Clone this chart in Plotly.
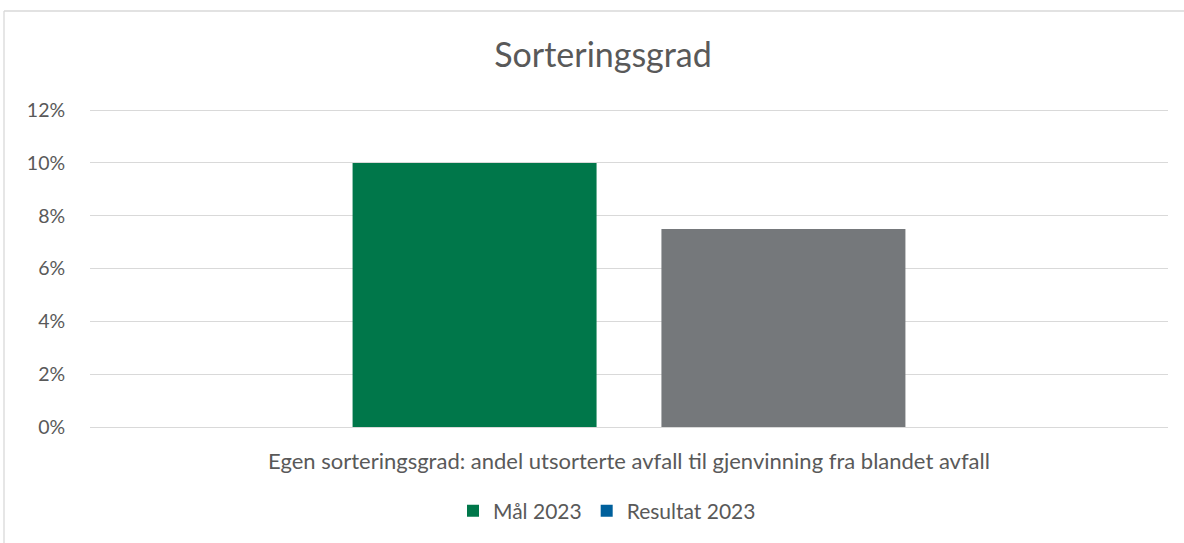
import plotly.graph_objects as go

categories = ["Egen sorteringsgrad: andel utsorterte avfall til gjenvinning fra blandet avfall"]
series_names = ["Mål 2023", "Resultat 2023"]
mal_2023 = [0.10]
resultat_2023 = [0.075]
y_ticks = [0, 0.02, 0.04, 0.06, 0.08, 0.10, 0.12]

bar_colors = ["#00774A", "#75787B"]
legend_colors = ["#00774A", "#00609C"]

W, H = 1184, 543
ml, mr, mt, mb = 90, 16, 109, 116
pw, ph = W - ml - mr, H - mt - mb

fig = go.Figure()
fig.add_trace(go.Bar(x=categories, y=mal_2023, name=series_names[0],
                     marker=dict(color=bar_colors[0], line=dict(width=0)),
                     showlegend=False, hoverinfo="y"))
fig.add_trace(go.Bar(x=categories, y=resultat_2023, name=series_names[1],
                     marker=dict(color=bar_colors[1], line=dict(width=0)),
                     showlegend=False, hoverinfo="y"))
for name, col in zip(series_names, legend_colors):
    fig.add_trace(go.Scatter(x=[None], y=[None], mode="markers", name=name,
                             marker=dict(symbol="square", size=12, color=col)))

font_family = "Lato, 'Open Sans', sans-serif"
fig.update_layout(
    width=W, height=H,
    margin=dict(l=ml, r=mr, t=mt, b=mb, autoexpand=False),
    paper_bgcolor="white", plot_bgcolor="white",
    barmode="group", bargap=0.427, bargroupgap=0.21,
    font=dict(family=font_family, color="#595959", size=19),
    title=dict(text="Sorteringsgrad", x=603 / W, xref="container", xanchor="center",
               y=1 - 55 / H, yref="container", yanchor="middle",
               font=dict(size=34, color="#595959", family=font_family)),
    xaxis=dict(showgrid=False, showline=False, zeroline=False,
               ticks="outside", ticklen=15, tickcolor="rgba(0,0,0,0)",
               tickfont=dict(size=22, color="#595959")),
    yaxis=dict(range=[0, 0.1204], tickvals=y_ticks, tickformat=".0%",
               showgrid=True, gridcolor="#D9D9D9", gridwidth=1.3,
               zeroline=True, zerolinecolor="#D9D9D9", zerolinewidth=1.3,
               showline=False, ticks="outside", ticklen=20, tickcolor="rgba(0,0,0,0)",
               tickfont=dict(size=19.5, color="#595959")),
    legend=dict(orientation="h", x=(607 - ml) / pw, xanchor="center",
                y=-(511 - (H - mb)) / ph,
                yanchor="middle", font=dict(size=21, color="#595959"),
                itemwidth=30, bgcolor="rgba(0,0,0,0)"),
    showlegend=True,
    shapes=[
        dict(type="line", xref="paper", yref="paper",
             x0=(4 - ml) / pw, x1=(W - ml) / pw, y0=1 + (mt - 11) / ph, y1=1 + (mt - 11) / ph,
             line=dict(color="#D9D9D9", width=1.3)),
        dict(type="line", xref="paper", yref="paper",
             x0=(4 - ml) / pw, x1=(4 - ml) / pw, y0=1 + (mt - 11) / ph, y1=-(mb) / ph,
             line=dict(color="#D9D9D9", width=1.3)),
    ],
)

fig.write_html("out.html", config={"displayModeBar": False},
               post_script="document.body.style.margin='0';")
